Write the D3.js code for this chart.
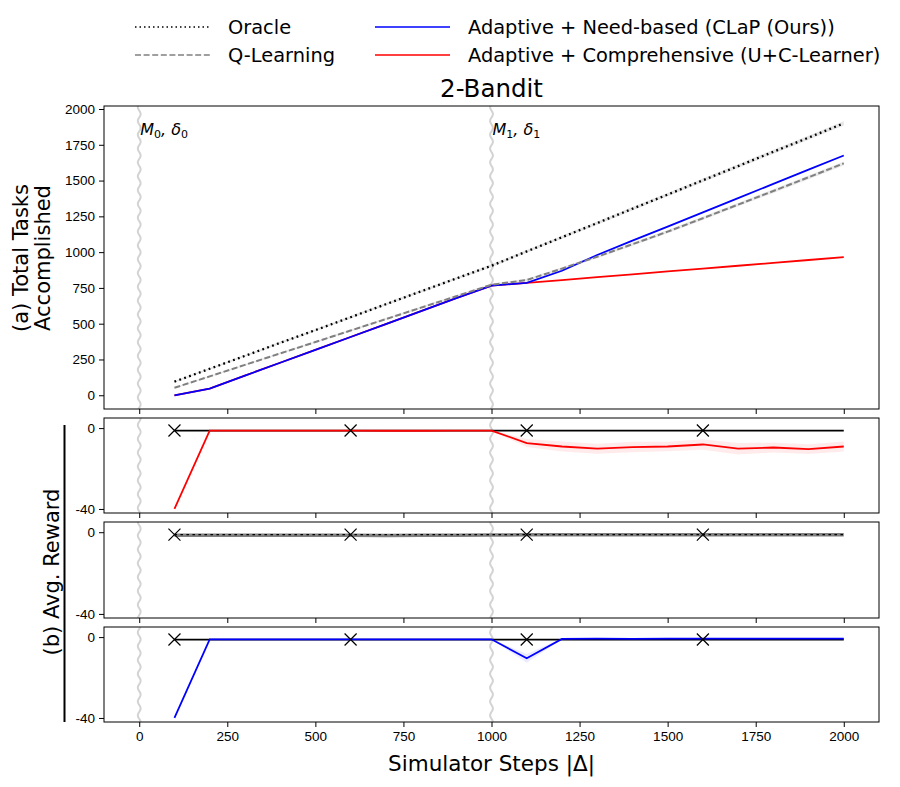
<!DOCTYPE html>
<html>
<head>
<meta charset="utf-8">
<script src="https://cdn.jsdelivr.net/npm/d3@7"></script>
<style>
  body { margin: 0; background: #fff; }
  svg { font-family: "DejaVu Sans", sans-serif; }
</style>
</head>
<body>
<svg width="900" height="787"></svg>
<script>
// Data
const steps = [100, 200, 300, 400, 500, 600, 700, 800, 900, 1000,
               1100, 1200, 1300, 1400, 1500, 1600, 1700, 1800, 1900, 2000];

const oracleTasks = [95, 185, 275, 366, 455, 545, 636, 726, 816, 905,
                     1005, 1104, 1203, 1303, 1402, 1502, 1601, 1701, 1800, 1900];
const oracleTasksErr = [5, 6, 6, 7, 7, 8, 8, 9, 9, 10, 10, 11, 11, 12, 12, 13, 13, 14, 14, 15];
const qTasks = [52, 132, 212, 292, 372, 452, 532, 612, 692, 772,
                805, 885, 968, 1055, 1143, 1237, 1332, 1427, 1523, 1620];
const qTasksErr = [4, 5, 5, 6, 6, 7, 7, 8, 8, 9, 9, 10, 10, 11, 11, 12, 12, 13, 13, 14];
const clapTasks = [0, 47, 137, 227, 317, 407, 497, 588, 678, 766,
                   785, 870, 980, 1080, 1178, 1278, 1377, 1477, 1576, 1675];
const ucTasks = [0, 47, 137, 227, 317, 407, 497, 588, 678, 766,
                 785, 805, 825, 845, 865, 885, 905, 925, 945, 965];

const oracleReward = [-1.2, -1.2, -1.2, -1.2, -1.2, -1.2, -1.2, -1.2, -1.2, -1.2,
                      -1.2, -1.2, -1.2, -1.2, -1.2, -1.2, -1.2, -1.2, -1.2, -1.2];
const qReward = [-1.5, -1.5, -1.5, -1.5, -1.5, -1.5, -1.6, -1.5, -1.5, -1.4,
                 -1.3, -1.3, -1.2, -1.3, -1.3, -1.2, -1.2, -1.2, -1.3, -1.3];
const ucReward = [-40, -1.2, -1.2, -1.2, -1.2, -1.2, -1.3, -1.3, -1.2, -1.2,
                  -7.4, -9.1, -10.2, -9.4, -9.1, -8.1, -10.2, -9.6, -10.4, -9.1];
const ucRewardErr = [0, 0.2, 0.2, 0.2, 0.2, 0.2, 0.2, 0.2, 0.2, 0.2,
                     2.0, 2.5, 2.5, 2.6, 2.4, 2.6, 2.8, 2.5, 2.4, 2.5];
const clapReward = [-40, -1.1, -1.1, -1.1, -1.1, -1.1, -1.1, -1.1, -1.1, -1.1,
                    -10.5, -0.9, -0.8, -0.9, -0.8, -0.8, -0.8, -0.8, -0.8, -0.8];
const clapRewardErr = [0, 0.2, 0.2, 0.2, 0.2, 0.2, 0.2, 0.2, 0.2, 0.2,
                       2.2, 0.3, 0.3, 0.3, 0.3, 0.3, 0.3, 0.3, 0.3, 0.3];

const markerSteps = [100, 600, 1100, 1600];
const shiftSteps = [0, 1000];
const shiftLabels = [["M", "0", "δ", "0"], ["M", "1", "δ", "1"]];
const xTicks = [0, 250, 500, 750, 1000, 1250, 1500, 1750, 2000];
const yTicksTop = [0, 250, 500, 750, 1000, 1250, 1500, 1750, 2000];
const yTicksReward = [0, -40];

const legendItems = [
  {label: "Oracle", color: "#000", dash: "1.5,3", width: 1.6},
  {label: "Q-Learning", color: "#808080", dash: "6,2.6", width: 1.6},
  {label: "Adaptive + Need-based (CLaP (Ours))", color: "#0000ff", dash: null, width: 1.6},
  {label: "Adaptive + Comprehensive (U+C-Learner)", color: "#ff0000", dash: null, width: 1.6}
];

const svg = d3.select("svg");
const left = 104, right = 879;

const x = d3.scaleLinear().domain([-100, 2100]).range([left, right]);

const panels = [
  {top: 106, bottom: 409, domain: [-96, 2021]},
  {top: 418, bottom: 513, domain: [-42, 5]},
  {top: 522, bottom: 618, domain: [-42, 5]},
  {top: 627, bottom: 722, domain: [-42, 5]}
];
panels.forEach(p => {
  p.y = d3.scaleLinear().domain(p.domain).range([p.bottom, p.top]);
});

const pts = (ys) => steps.map((s, i) => [s, ys[i]]);

function addPanel(p, idx) {
  const g = svg.append("g");
  const clipId = "clip" + idx;
  svg.append("clipPath").attr("id", clipId)
    .append("rect").attr("x", left).attr("y", p.top)
    .attr("width", right - left).attr("height", p.bottom - p.top);
  const plot = g.append("g").attr("clip-path", `url(#${clipId})`);

  // wavy shift markers
  shiftSteps.forEach(s => {
    const ys = d3.range(p.top, p.bottom + 1, 1);
    plot.append("path")
      .attr("d", d3.line()(ys.map(yy => [x(s) + 1.4 * Math.sin(yy / 2.2), yy])))
      .attr("fill", "none").attr("stroke", "#d3d3d3").attr("stroke-width", 2);
  });

  // x axis
  const xa = g.append("g").attr("transform", `translate(0,${p.bottom})`)
    .call(d3.axisBottom(x).tickValues(xTicks).tickSize(5).tickPadding(4)
      .tickFormat(idx === 3 ? d3.format("d") : ""));
  // y axis
  const ya = g.append("g").attr("transform", `translate(${left},0)`)
    .call(d3.axisLeft(p.y).tickValues(idx === 0 ? yTicksTop : yTicksReward)
      .tickSize(5).tickPadding(4).tickFormat(d => d3.format("d")(d).replace("−", "-")));
  [xa, ya].forEach(a => {
    a.select(".domain").remove();
    a.selectAll("text").attr("font-size", 13.5).attr("fill", "#000");
    a.selectAll("line").attr("stroke", "#000");
  });

  g.append("rect").attr("x", left).attr("y", p.top)
    .attr("width", right - left).attr("height", p.bottom - p.top)
    .attr("fill", "none").attr("stroke", "#000").attr("stroke-width", 1);
  return plot;
}

const plots = panels.map((p, i) => addPanel(p, i));

function band(plot, y, vals, err, color, op) {
  plot.append("path")
    .datum(steps.map((s, i) => ({s, lo: vals[i] - err[i], hi: vals[i] + err[i]})))
    .attr("d", d3.area().x(d => x(d.s)).y0(d => y(d.lo)).y1(d => y(d.hi)))
    .attr("fill", color).attr("opacity", op);
}
function line(plot, y, vals, color, width, dash) {
  plot.append("path")
    .datum(pts(vals))
    .attr("d", d3.line().x(d => x(d[0])).y(d => y(d[1])))
    .attr("fill", "none").attr("stroke", color)
    .attr("stroke-width", width)
    .attr("stroke-dasharray", dash);
}
function markers(plot, y) {
  markerSteps.forEach(s => {
    const v = oracleReward[steps.indexOf(s)];
    const cx = x(s), cy = y(v), r = 6;
    plot.append("path")
      .attr("d", `M${cx - r},${cy - r}L${cx + r},${cy + r}M${cx - r},${cy + r}L${cx + r},${cy - r}`)
      .attr("stroke", "#000").attr("stroke-width", 1.2);
  });
}

// (a) total tasks
const pa = plots[0], ya = panels[0].y;
band(pa, ya, oracleTasks, oracleTasksErr, "#999", 0.25);
band(pa, ya, qTasks, qTasksErr, "#999", 0.22);
line(pa, ya, ucTasks, "#ff0000", 1.8, null);
line(pa, ya, clapTasks, "#0000ff", 1.8, null);
line(pa, ya, qTasks, "#808080", 2, "6,2.6");
line(pa, ya, oracleTasks, "#000", 2.3, "1.8,3.4");

// (b1) U+C learner rewards
const y1 = panels[1].y;
band(plots[1], y1, ucReward, ucRewardErr, "#ff0000", 0.08);
line(plots[1], y1, oracleReward, "#000", 1.8, null);
line(plots[1], y1, ucReward, "#ff0000", 1.8, null);
markers(plots[1], y1);

// (b2) Q-learning rewards
const y2 = panels[2].y;
line(plots[2], y2, qReward, "#808080", 3.5, null);
line(plots[2], y2, oracleReward, "#000", 1.4, "2.5,3.5");
markers(plots[2], y2);

// (b3) CLaP rewards
const y3 = panels[3].y;
band(plots[3], y3, clapReward, clapRewardErr, "#0000ff", 0.08);
line(plots[3], y3, oracleReward, "#000", 1.8, null);
line(plots[3], y3, clapReward, "#0000ff", 1.8, null);
markers(plots[3], y3);

// shift labels
shiftSteps.forEach((s, i) => {
  const t = svg.append("text").attr("x", x(s) + 1).attr("y", 135)
    .attr("font-size", 16).attr("font-style", "italic").attr("fill", "#000");
  const lab = shiftLabels[i];
  t.append("tspan").text(lab[0]);
  t.append("tspan").attr("font-size", 11).attr("font-style", "normal").attr("dy", 3).text(lab[1]);
  t.append("tspan").attr("dy", -3).text(", " + lab[2]);
  t.append("tspan").attr("font-size", 11).attr("font-style", "normal").attr("dy", 3).text(lab[3]);
});

// title
svg.append("text").attr("x", x(1000)).attr("y", 97).attr("text-anchor", "middle")
  .attr("font-size", 24.5).text("2-Bandit");

// axis labels
svg.append("text").attr("x", x(1000)).attr("y", 771).attr("text-anchor", "middle")
  .attr("font-size", 21.5).text("Simulator Steps |Δ|");
const yl = svg.append("text").attr("transform", "translate(28,258) rotate(-90)")
  .attr("text-anchor", "middle").attr("font-size", 21);
yl.append("tspan").attr("x", 0).attr("dy", 0).text("(a) Total Tasks");
yl.append("tspan").attr("x", 0).attr("dy", 22).text("Accomplished");
svg.append("text").attr("transform", "translate(59,572) rotate(-90)")
  .attr("text-anchor", "middle").attr("font-size", 21).text("(b) Avg. Reward");
svg.append("line").attr("x1", 64.5).attr("x2", 64.5).attr("y1", 425).attr("y2", 722)
  .attr("stroke", "#000").attr("stroke-width", 2);

// legend
const legendPos = [[135, 27], [135, 55], [375, 27], [375, 55]];
legendItems.forEach((d, i) => {
  const [lx, ly] = legendPos[i];
  svg.append("line").attr("x1", lx).attr("x2", lx + 75).attr("y1", ly).attr("y2", ly)
    .attr("stroke", d.color).attr("stroke-width", d.width).attr("stroke-dasharray", d.dash);
  svg.append("text").attr("x", lx + 93).attr("y", ly + 6.5)
    .attr("font-size", 19.4).text(d.label);
});
</script>
</body>
</html>
